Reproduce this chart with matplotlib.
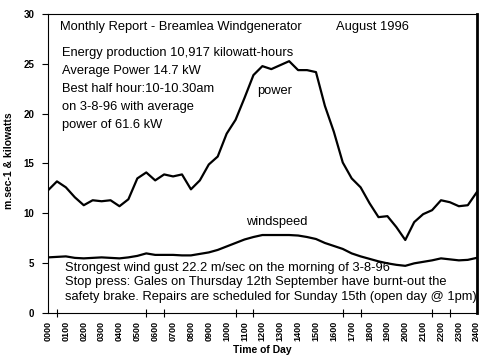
import numpy as np
import matplotlib
matplotlib.use('Agg')
from matplotlib import pyplot as plt

matplotlib.rc('font', family='Liberation Sans')

# half-hourly readings, 0000 .. 2400
hours = np.arange(0, 24.5, 0.5)
power = [12.3, 13.2, 12.6, 11.6, 10.8, 11.3, 11.2, 11.3, 10.7, 11.4,
         13.5, 14.1, 13.3, 13.9, 13.7, 13.9, 12.4, 13.3, 14.9, 15.7,
         18.0, 19.4, 21.6, 23.9, 24.8, 24.5, 24.9, 25.3, 24.4, 24.4,
         24.2, 20.8, 18.2, 15.1, 13.5, 12.6, 11.0, 9.6, 9.7, 8.6,
         7.3, 9.1, 9.9, 10.3, 11.3, 11.1, 10.7, 10.8, 12.1]
windspeed = [5.55, 5.6, 5.65, 5.5, 5.45, 5.5, 5.55, 5.5, 5.45, 5.55,
             5.7, 5.95, 5.8, 5.8, 5.8, 5.75, 5.75, 5.9, 6.05, 6.3,
             6.65, 7.0, 7.35, 7.6, 7.8, 7.8, 7.8, 7.8, 7.75, 7.6,
             7.4, 7.0, 6.7, 6.4, 5.95, 5.65, 5.4, 5.15, 4.95, 4.8,
             4.7, 4.95, 5.1, 5.25, 5.45, 5.35, 5.25, 5.3, 5.5]
hour_labels = ['%02d00' % h for h in range(25)]
tick_marks = [0, 0.5, 5, 5.5, 6, 6.5, 10.5, 11, 11.5, 12,
              16, 16.5, 17, 17.5, 21.5, 22, 22.5, 23, 24]

fig = plt.figure(figsize=(4.93, 3.62), dpi=100)
ax = fig.add_axes([0.0974, 0.1367, 0.8696, 0.8233])

ax.plot(hours, power, color='black', lw=1.6)
ax.plot(hours, windspeed, color='black', lw=1.6)

ax.set_xlim(0, 24)
ax.set_ylim(0, 30)

# hour labels without marks, marks at the odd half-hour spots
ax.set_xticks(range(25))
ax.set_xticklabels(hour_labels, rotation=90, fontsize=6.5, fontweight='bold')
ax.tick_params(axis='x', which='major', length=0, pad=6)
ax.set_xticks(tick_marks, minor=True)
ax.tick_params(axis='x', which='minor', direction='inout', length=6, width=0.8)

ax.set_yticks([0, 5, 10, 15, 20, 25, 30])
ax.set_yticklabels(['0', '5', '10', '15', '20', '25', '30'], fontsize=7, fontweight='bold')
ax.tick_params(axis='y', direction='out', length=4, width=0.8, pad=6)

for s in ['left', 'top', 'bottom']:
    ax.spines[s].set_linewidth(0.8)
ax.spines['right'].set_linewidth(2)

ax.set_xlabel('Time of Day', fontsize=7.5, fontweight='bold', labelpad=3)
ax.set_ylabel('m.sec-1 & kilowatts', fontsize=7.5, fontweight='bold')
ax.yaxis.set_label_coords(-0.079, 0.51)

fs = 9.3
ax.text(0.65, 28.7, 'Monthly Report - Breamlea Windgenerator', fontsize=fs, va='center')
ax.text(16.1, 28.7, 'August 1996', fontsize=fs, va='center')
info = ['Energy production 10,917 kilowatt-hours',
        'Average Power 14.7 kW',
        'Best half hour:10-10.30am',
        'on 3-8-96 with average',
        'power of 61.6 kW']
for i, line in enumerate(info):
    ax.text(0.78, 26.1 - i * 1.8, line, fontsize=fs, va='center')

ax.text(12.7, 22.3, 'power', fontsize=fs, ha='center', va='center')
ax.text(12.8, 9.15, 'windspeed', fontsize=fs, ha='center', va='center')

notes = ['Strongest wind gust 22.2 m/sec on the morning of 3-8-96',
         'Stop press: Gales on Thursday 12th September have burnt-out the',
         'safety brake. Repairs are scheduled for Sunday 15th (open day @ 1pm)']
for i, line in enumerate(notes):
    ax.text(0.95, 4.5 - i * 1.47, line, fontsize=fs, va='center', clip_on=True)

plt.savefig('out.png', dpi=100)
